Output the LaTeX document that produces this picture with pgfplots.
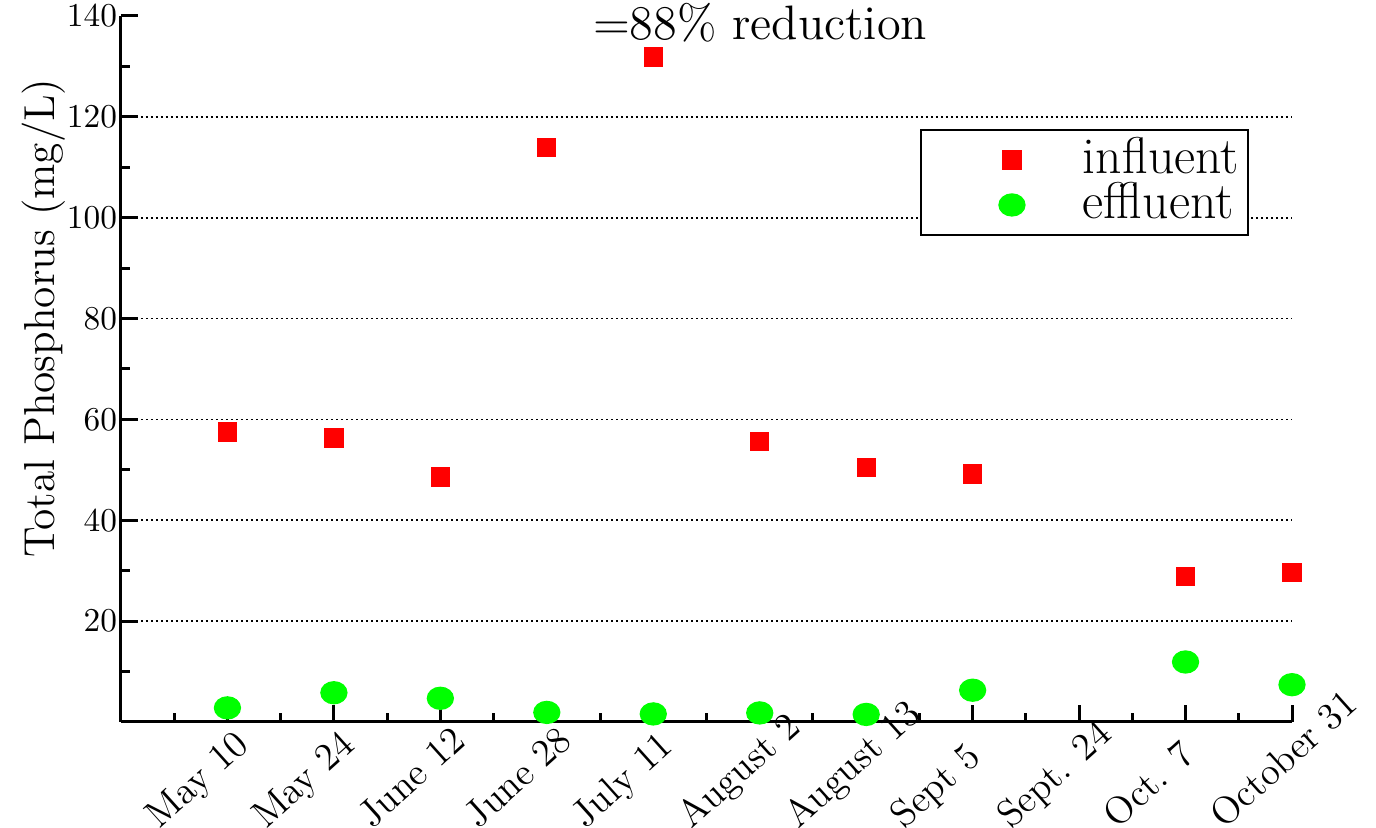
\documentclass[border=0pt]{standalone}
\usepackage{pgfplots}
\pgfplotsset{compat=1.18}
\definecolor{infred}{RGB}{255,0,0}
\definecolor{effgreen}{RGB}{0,255,0}
\begin{document}
\begin{tikzpicture}
\begin{axis}[
  scale only axis, width=351.3pt, height=211.8pt,
  xmin=0, xmax=11, ymin=0, ymax=140,
  clip=false,
  axis lines*=left, axis line style={-, line width=0.9pt},
  every tick/.style={black, line width=0.9pt},
  major tick length=5pt, minor tick length=2.8pt,
  tick align=inside,
  xtick={1,...,11},
  xticklabels={May 10,May 24,June 12,June 28,July 11,August 2,August 13,Sept 5,Sept. 24,Oct. 7,October 31},
  minor xtick={0.5,1.5,...,10.5},
  xticklabel style={font=\fontsize{11.5}{13}\selectfont, inner sep=0pt, xshift=-20.5pt, yshift=-32.3pt, rotate=42, anchor=base west},
  ytick={20,40,...,120},
  extra y ticks={140},
  extra y tick style={grid=none},
  minor ytick={10,30,...,130},
  ymajorgrids,
  grid style={black, line width=0.5pt, dash pattern=on 0.5pt off 1pt},
  yticklabel style={font=\fontsize{10.2}{12}\selectfont, inner xsep=1pt},
  ylabel={Total Phosphorus (mg/L)},
  ylabel style={font=\fontsize{13}{15}\selectfont, at={(axis description cs:-0.057,0.572)}, anchor=base},
  legend style={at={(axis description cs:0.6823,0.840)}, anchor=north west, draw=black, line width=0.6pt, inner xsep=0pt, inner ysep=2.25pt, row sep=0pt, column sep=0pt, nodes={inner sep=0pt, text height=10.95pt, text depth=2.55pt, font=\fontsize{15.5}{17}\selectfont, anchor=base}, legend cell align=left},
  legend image code/.code={\path (0pt,0pt) (48pt,0pt); \draw[#1, line width=0.4pt] plot coordinates {(27pt,4.2pt)};},
]
\addplot[only marks, mark=square*, color=infred, mark size=2.7pt] coordinates {
 (1,57.5) (2,56.3) (3,48.6) (4,113.9) (5,131.9) (6,55.6) (7,50.4) (8,49.2) (10,28.8) (11,29.6)
};
\addlegendentry{\makebox[49.5pt][l]{influent}}
\addplot[only marks, mark=*, color=effgreen, mark size=3.3pt, mark options={xscale=1.18}] coordinates {
 (1,2.8) (2,5.8) (3,4.7) (4,1.9) (5,1.6) (6,1.8) (7,1.5) (8,6.3) (10,11.9) (11,7.4)
};
\addlegendentry{\makebox[49.5pt][l]{effluent}}
\end{axis}
\node[anchor=base, font=\fontsize{14.5}{16}\selectfont] at (191.7pt,204.6pt) {=88\% reduction};
\pgfresetboundingbox
\useasboundingbox (-36.3pt,-31.8pt) rectangle (376.5pt,216.6pt);
\end{tikzpicture}
\end{document}
